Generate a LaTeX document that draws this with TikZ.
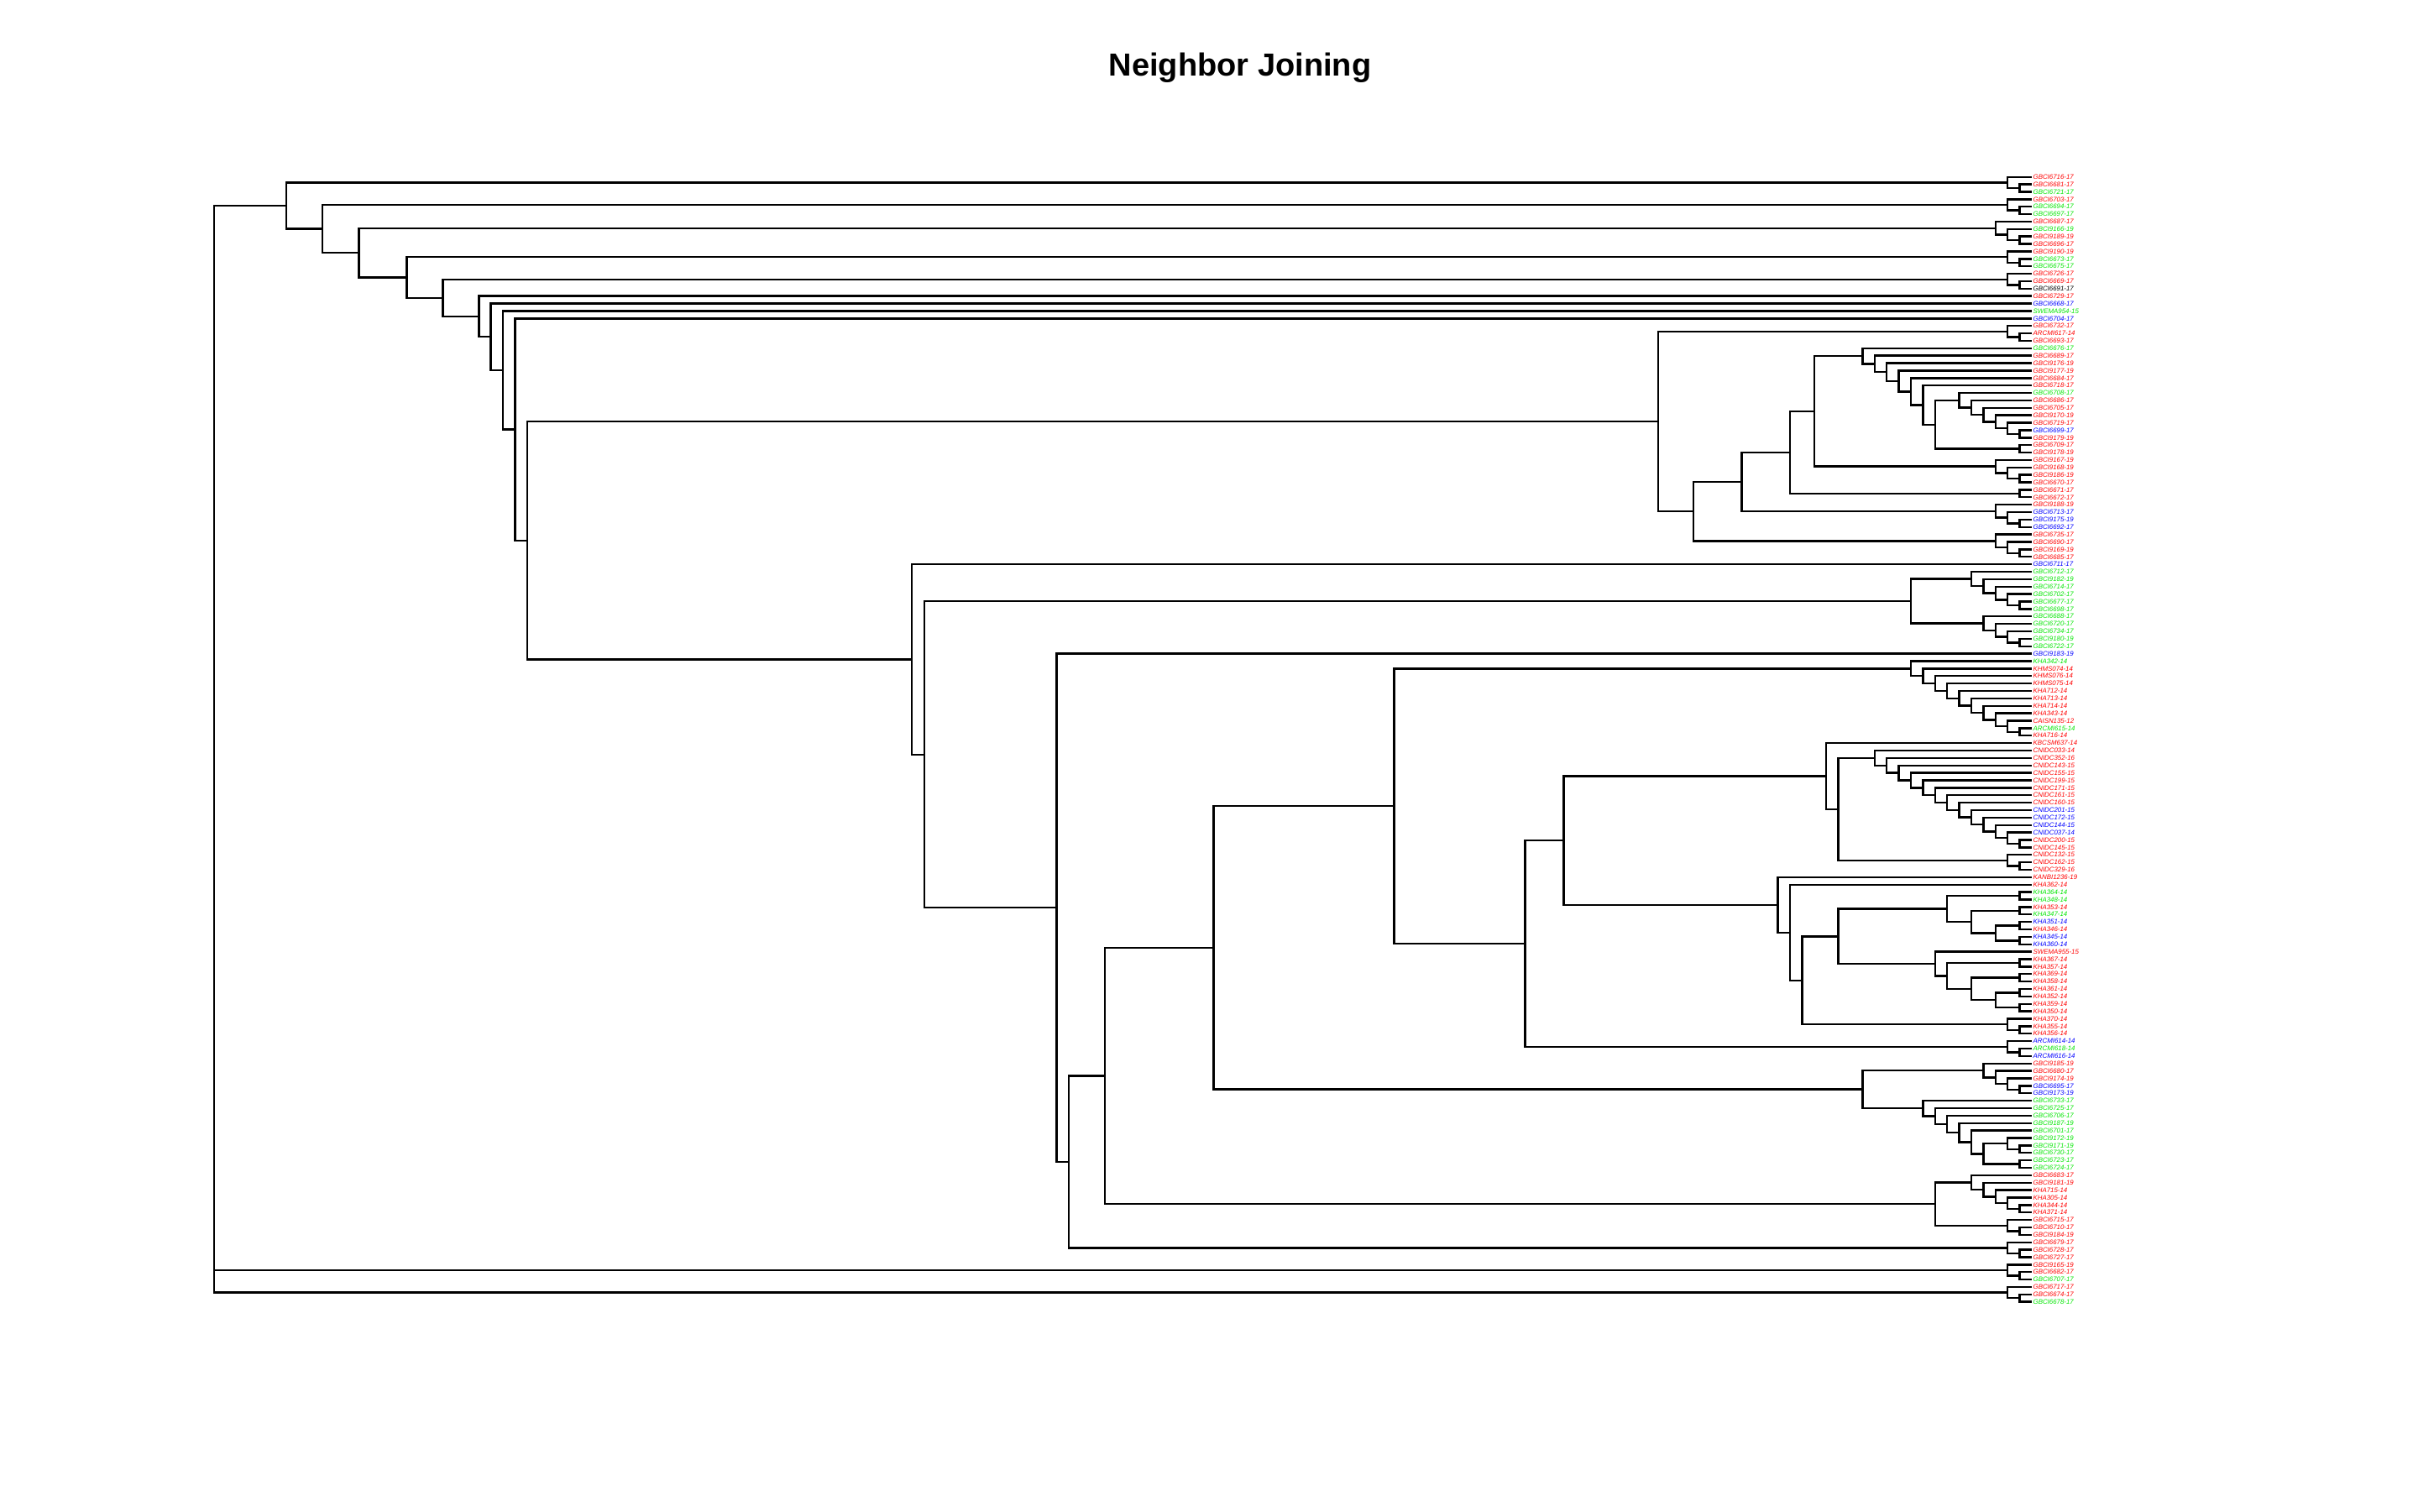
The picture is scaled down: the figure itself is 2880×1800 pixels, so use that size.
\documentclass[tikz,border=0pt]{standalone}
\usepackage{fontspec}
\setmainfont{Liberation Sans}
\usetikzlibrary{calc}
\definecolor{cr}{RGB}{255,0,0}
\definecolor{cg}{RGB}{0,230,0}
\definecolor{cb}{RGB}{0,0,255}
\definecolor{ck}{RGB}{0,0,0}
\newcommand\Kx[1]{(2420-14.4*#1)}
\newcommand\lf[3]{\coordinate (t#1) at (2420,{210.7+(#1-1)*8.874}); \node[lab,text=#2] (l#1) at (t#1) {#3};}
\newcommand\nd[4]{\path let \p1=(#3), \p2=(#4) in coordinate (#1) at ({(#2)*0.25pt},{0.5*(\y1)+0.5*(\y2)}); \draw[br] (#3) -| (#1) |- (#4);}
\begin{document}
\begin{tikzpicture}[x=0.25pt,y=-0.25pt,
  lab/.style={anchor=west,inner xsep=0.2pt,inner ysep=0pt,font=\fontsize{1.97pt}{2.2pt}\selectfont\itshape},
  br/.style={line width=0.6pt,black},
  ttl/.style={font=\fontsize{9.5pt}{11pt}\selectfont\bfseries}]
\useasboundingbox (0,0) rectangle (2880,1800);
\node[ttl] (title) at (1477,81) {Neighbor Joining};
\lf{1}{cr}{GBCI6716-17}
\lf{2}{cr}{GBCI6681-17}
\lf{3}{cg}{GBCI6721-17}
\lf{4}{cr}{GBCI6703-17}
\lf{5}{cg}{GBCI6694-17}
\lf{6}{cg}{GBCI6697-17}
\lf{7}{cr}{GBCI6687-17}
\lf{8}{cg}{GBCI9166-19}
\lf{9}{cr}{GBCI9189-19}
\lf{10}{cr}{GBCI6696-17}
\lf{11}{cr}{GBCI9190-19}
\lf{12}{cg}{GBCI6673-17}
\lf{13}{cg}{GBCI6675-17}
\lf{14}{cr}{GBCI6726-17}
\lf{15}{cr}{GBCI6669-17}
\lf{16}{ck}{GBCI6691-17}
\lf{17}{cr}{GBCI6729-17}
\lf{18}{cb}{GBCI6668-17}
\lf{19}{cg}{SWEMA954-15}
\lf{20}{cb}{GBCI6704-17}
\lf{21}{cr}{GBCI6732-17}
\lf{22}{cr}{ARCMI617-14}
\lf{23}{cr}{GBCI6693-17}
\lf{24}{cg}{GBCI6676-17}
\lf{25}{cr}{GBCI6689-17}
\lf{26}{cr}{GBCI9176-19}
\lf{27}{cr}{GBCI9177-19}
\lf{28}{cr}{GBCI6684-17}
\lf{29}{cr}{GBCI6718-17}
\lf{30}{cg}{GBCI6708-17}
\lf{31}{cr}{GBCI6686-17}
\lf{32}{cr}{GBCI6705-17}
\lf{33}{cr}{GBCI9170-19}
\lf{34}{cr}{GBCI6719-17}
\lf{35}{cb}{GBCI6699-17}
\lf{36}{cr}{GBCI9179-19}
\lf{37}{cr}{GBCI6709-17}
\lf{38}{cr}{GBCI9178-19}
\lf{39}{cr}{GBCI9167-19}
\lf{40}{cr}{GBCI9168-19}
\lf{41}{cr}{GBCI9186-19}
\lf{42}{cr}{GBCI6670-17}
\lf{43}{cr}{GBCI6671-17}
\lf{44}{cr}{GBCI6672-17}
\lf{45}{cr}{GBCI9188-19}
\lf{46}{cb}{GBCI6713-17}
\lf{47}{cb}{GBCI9175-19}
\lf{48}{cb}{GBCI6692-17}
\lf{49}{cr}{GBCI6735-17}
\lf{50}{cr}{GBCI6690-17}
\lf{51}{cr}{GBCI9169-19}
\lf{52}{cr}{GBCI6685-17}
\lf{53}{cb}{GBCI6711-17}
\lf{54}{cg}{GBCI6712-17}
\lf{55}{cg}{GBCI9182-19}
\lf{56}{cg}{GBCI6714-17}
\lf{57}{cg}{GBCI6702-17}
\lf{58}{cg}{GBCI6677-17}
\lf{59}{cg}{GBCI6698-17}
\lf{60}{cg}{GBCI6688-17}
\lf{61}{cg}{GBCI6720-17}
\lf{62}{cg}{GBCI6734-17}
\lf{63}{cg}{GBCI9180-19}
\lf{64}{cg}{GBCI6722-17}
\lf{65}{cb}{GBCI9183-19}
\lf{66}{cg}{KHA342-14}
\lf{67}{cr}{KHMS074-14}
\lf{68}{cr}{KHMS076-14}
\lf{69}{cr}{KHMS075-14}
\lf{70}{cr}{KHA712-14}
\lf{71}{cr}{KHA713-14}
\lf{72}{cr}{KHA714-14}
\lf{73}{cr}{KHA343-14}
\lf{74}{cr}{CAISN135-12}
\lf{75}{cg}{ARCMI615-14}
\lf{76}{cr}{KHA716-14}
\lf{77}{cr}{KBCSM637-14}
\lf{78}{cr}{CNIDC033-14}
\lf{79}{cr}{CNIDC352-16}
\lf{80}{cr}{CNIDC143-15}
\lf{81}{cr}{CNIDC155-15}
\lf{82}{cr}{CNIDC199-15}
\lf{83}{cr}{CNIDC171-15}
\lf{84}{cr}{CNIDC161-15}
\lf{85}{cr}{CNIDC160-15}
\lf{86}{cb}{CNIDC201-15}
\lf{87}{cb}{CNIDC172-15}
\lf{88}{cb}{CNIDC144-15}
\lf{89}{cb}{CNIDC037-14}
\lf{90}{cr}{CNIDC200-15}
\lf{91}{cr}{CNIDC145-15}
\lf{92}{cr}{CNIDC132-15}
\lf{93}{cr}{CNIDC162-15}
\lf{94}{cr}{CNIDC329-16}
\lf{95}{cr}{KANBI1236-19}
\lf{96}{cr}{KHA362-14}
\lf{97}{cg}{KHA364-14}
\lf{98}{cg}{KHA348-14}
\lf{99}{cr}{KHA353-14}
\lf{100}{cg}{KHA347-14}
\lf{101}{cb}{KHA351-14}
\lf{102}{cr}{KHA346-14}
\lf{103}{cb}{KHA345-14}
\lf{104}{cb}{KHA360-14}
\lf{105}{cr}{SWEMA955-15}
\lf{106}{cr}{KHA367-14}
\lf{107}{cr}{KHA357-14}
\lf{108}{cr}{KHA369-14}
\lf{109}{cr}{KHA358-14}
\lf{110}{cr}{KHA361-14}
\lf{111}{cr}{KHA352-14}
\lf{112}{cr}{KHA359-14}
\lf{113}{cr}{KHA350-14}
\lf{114}{cr}{KHA370-14}
\lf{115}{cr}{KHA355-14}
\lf{116}{cr}{KHA356-14}
\lf{117}{cb}{ARCMI614-14}
\lf{118}{cg}{ARCMI618-14}
\lf{119}{cb}{ARCMI616-14}
\lf{120}{cr}{GBCI9185-19}
\lf{121}{cr}{GBCI6680-17}
\lf{122}{cr}{GBCI9174-19}
\lf{123}{cb}{GBCI6695-17}
\lf{124}{cb}{GBCI9173-19}
\lf{125}{cg}{GBCI6733-17}
\lf{126}{cg}{GBCI6725-17}
\lf{127}{cg}{GBCI6706-17}
\lf{128}{cg}{GBCI9187-19}
\lf{129}{cg}{GBCI6701-17}
\lf{130}{cg}{GBCI9172-19}
\lf{131}{cg}{GBCI9171-19}
\lf{132}{cg}{GBCI6730-17}
\lf{133}{cg}{GBCI6723-17}
\lf{134}{cg}{GBCI6724-17}
\lf{135}{cr}{GBCI6683-17}
\lf{136}{cr}{GBCI9181-19}
\lf{137}{cr}{KHA715-14}
\lf{138}{cr}{KHA305-14}
\lf{139}{cr}{KHA344-14}
\lf{140}{cr}{KHA371-14}
\lf{141}{cr}{GBCI6715-17}
\lf{142}{cr}{GBCI6710-17}
\lf{143}{cr}{GBCI9184-19}
\lf{144}{cr}{GBCI6679-17}
\lf{145}{cr}{GBCI6728-17}
\lf{146}{cr}{GBCI6727-17}
\lf{147}{cr}{GBCI9165-19}
\lf{148}{cr}{GBCI6682-17}
\lf{149}{cg}{GBCI6707-17}
\lf{150}{cr}{GBCI6717-17}
\lf{151}{cr}{GBCI6674-17}
\lf{152}{cg}{GBCI6678-17}
% small clades at top
\nd{a1}{\Kx{1}}{t2}{t3} \nd{c1}{\Kx{2}}{t1}{a1}
\nd{a4}{\Kx{1}}{t5}{t6} \nd{c4}{\Kx{2}}{t4}{a4}
\nd{a9}{\Kx{1}}{t9}{t10} \nd{a8}{\Kx{2}}{t8}{a9} \nd{c7}{\Kx{3}}{t7}{a8}
\nd{a12}{\Kx{1}}{t12}{t13} \nd{c11}{\Kx{2}}{t11}{a12}
\nd{a15}{\Kx{1}}{t15}{t16} \nd{c14}{\Kx{2}}{t14}{a15}
% clade A
\nd{a22}{\Kx{1}}{t22}{t23} \nd{c21}{\Kx{2}}{t21}{a22}
\nd{a35}{\Kx{1}}{t35}{t36} \nd{a34}{\Kx{2}}{t34}{a35} \nd{a33}{\Kx{3}}{t33}{a34}
\nd{a32}{\Kx{4}}{t32}{a33} \nd{a31}{\Kx{5}}{t31}{a32} \nd{a30}{\Kx{6}}{t30}{a31}
\nd{a37}{\Kx{1}}{t37}{t38} \nd{b30}{\Kx{8}}{a30}{a37}
\nd{a29}{\Kx{9}}{t29}{b30} \nd{a28}{\Kx{10}}{t28}{a29} \nd{a27}{\Kx{11}}{t27}{a28}
\nd{a26}{\Kx{12}}{t26}{a27} \nd{a25}{\Kx{13}}{t25}{a26} \nd{a24}{\Kx{14}}{t24}{a25}
\nd{a41}{\Kx{1}}{t41}{t42} \nd{a40}{\Kx{2}}{t40}{a41} \nd{c39}{\Kx{3}}{t39}{a40}
\nd{A5}{\Kx{18}}{a24}{c39}
\nd{c43}{\Kx{1}}{t43}{t44}
\nd{A4}{\Kx{20}}{A5}{c43}
\nd{a47}{\Kx{1}}{t47}{t48} \nd{a46}{\Kx{2}}{t46}{a47} \nd{c45}{\Kx{3}}{t45}{a46}
\nd{A3}{\Kx{24}}{A4}{c45}
\nd{a51}{\Kx{1}}{t51}{t52} \nd{a50}{\Kx{2}}{t50}{a51} \nd{c49}{\Kx{3}}{t49}{a50}
\nd{A2}{\Kx{28}}{A3}{c49}
\nd{A}{1975}{c21}{A2}
% green clade
\nd{a58}{\Kx{1}}{t58}{t59} \nd{a57}{\Kx{2}}{t57}{a58} \nd{a56}{\Kx{3}}{t56}{a57}
\nd{a55}{\Kx{4}}{t55}{a56} \nd{c54}{\Kx{5}}{t54}{a55}
\nd{a63}{\Kx{1}}{t63}{t64} \nd{a62}{\Kx{2}}{t62}{a63} \nd{a61}{\Kx{3}}{t61}{a62}
\nd{c60}{\Kx{4}}{t60}{a61}
\nd{G}{\Kx{10}}{c54}{c60}
% KHA clade
\nd{a75}{\Kx{1}}{t75}{t76} \nd{a74}{\Kx{2}}{t74}{a75} \nd{a73}{\Kx{3}}{t73}{a74}
\nd{a72}{\Kx{4}}{t72}{a73} \nd{a71}{\Kx{5}}{t71}{a72} \nd{a70}{\Kx{6}}{t70}{a71}
\nd{a69}{\Kx{7}}{t69}{a70} \nd{a68}{\Kx{8}}{t68}{a69} \nd{a67}{\Kx{9}}{t67}{a68}
\nd{KH}{\Kx{10}}{t66}{a67}
% CNIDC clade
\nd{a90}{\Kx{1}}{t90}{t91} \nd{a89}{\Kx{2}}{t89}{a90} \nd{a88}{\Kx{3}}{t88}{a89}
\nd{a87}{\Kx{4}}{t87}{a88} \nd{a86}{\Kx{5}}{t86}{a87} \nd{a85}{\Kx{6}}{t85}{a86}
\nd{a84}{\Kx{7}}{t84}{a85} \nd{a83}{\Kx{8}}{t83}{a84} \nd{a82}{\Kx{9}}{t82}{a83}
\nd{a81}{\Kx{10}}{t81}{a82} \nd{a80}{\Kx{11}}{t80}{a81} \nd{a79}{\Kx{12}}{t79}{a80}
\nd{a78}{\Kx{13}}{t78}{a79}
\nd{a93}{\Kx{1}}{t93}{t94} \nd{c92}{\Kx{2}}{t92}{a93}
\nd{P2}{\Kx{16}}{a78}{c92} \nd{P}{\Kx{17}}{t77}{P2}
% KHA 97-116
\nd{a97}{\Kx{1}}{t97}{t98} \nd{a99}{\Kx{1}}{t99}{t100} \nd{a101}{\Kx{1}}{t101}{t102}
\nd{a103}{\Kx{1}}{t103}{t104} \nd{b101}{\Kx{3}}{a101}{a103} \nd{b99}{\Kx{5}}{a99}{b101}
\nd{b97}{\Kx{7}}{a97}{b99}
\nd{a106}{\Kx{1}}{t106}{t107} \nd{a108}{\Kx{1}}{t108}{t109} \nd{a110}{\Kx{1}}{t110}{t111}
\nd{a112}{\Kx{1}}{t112}{t113} \nd{b110}{\Kx{3}}{a110}{a112} \nd{b108}{\Kx{5}}{a108}{b110}
\nd{b106}{\Kx{7}}{a106}{b108} \nd{b105}{\Kx{8}}{t105}{b106}
\nd{R}{\Kx{16}}{b97}{b105}
\nd{a115}{\Kx{1}}{t115}{t116} \nd{c114}{\Kx{2}}{t114}{a115}
\nd{Q3}{\Kx{19}}{R}{c114} \nd{Q2}{\Kx{20}}{t96}{Q3} \nd{Q}{\Kx{21}}{t95}{Q2}
\nd{M1014}{1862.4}{P}{Q}
\nd{a118}{\Kx{1}}{t118}{t119} \nd{c117}{\Kx{2}}{t117}{a118}
\nd{M989}{1816.5}{M1014}{c117}
\nd{M904}{1660.4}{KH}{M989}
% clade 120-134
\nd{a123}{\Kx{1}}{t123}{t124} \nd{a122}{\Kx{2}}{t122}{a123} \nd{a121}{\Kx{3}}{t121}{a122}
\nd{c120}{\Kx{4}}{t120}{a121}
\nd{a131}{\Kx{1}}{t131}{t132} \nd{a130}{\Kx{2}}{t130}{a131} \nd{a133}{\Kx{1}}{t133}{t134}
\nd{b130}{\Kx{4}}{a130}{a133} \nd{a129}{\Kx{5}}{t129}{b130} \nd{a128}{\Kx{6}}{t128}{a129}
\nd{a127}{\Kx{7}}{t127}{a128} \nd{a126}{\Kx{8}}{t126}{a127} \nd{c125}{\Kx{9}}{t125}{a126}
\nd{E}{\Kx{14}}{c120}{c125}
\nd{M787}{1445.5}{M904}{E}
% clade 135-143
\nd{a139}{\Kx{1}}{t139}{t140} \nd{a138}{\Kx{2}}{t138}{a139} \nd{a137}{\Kx{3}}{t137}{a138}
\nd{a136}{\Kx{4}}{t136}{a137} \nd{c135}{\Kx{5}}{t135}{a136}
\nd{a142}{\Kx{1}}{t142}{t143} \nd{c141}{\Kx{2}}{t141}{a142}
\nd{D}{\Kx{8}}{c135}{c141}
\nd{B4}{1315.7}{M787}{D}
\nd{a145}{\Kx{1}}{t145}{t146} \nd{c144}{\Kx{2}}{t144}{a145}
\nd{B3}{1272.7}{B4}{c144}
\nd{B2}{1258.3}{t65}{B3}
\nd{B1}{1100.7}{G}{B2}
\nd{B0}{1086}{t53}{B1}
% backbone
\nd{N10}{628}{A}{B0}
\nd{N9}{613.3}{t20}{N10}
\nd{N8}{599}{t19}{N9}
\nd{N7}{584.3}{t18}{N8}
\nd{N6}{570.3}{t17}{N7}
\nd{N5}{527.3}{c14}{N6}
\nd{N4}{484.3}{c11}{N5}
\nd{N3}{427.3}{c7}{N4}
\nd{N2}{384}{c4}{N3}
\nd{N1}{341}{c1}{N2}
% bottom clades and root
\nd{a148}{\Kx{1}}{t148}{t149} \nd{c147}{\Kx{2}}{t147}{a148}
\nd{a151}{\Kx{1}}{t151}{t152} \nd{c150}{\Kx{2}}{t150}{a151}
\nd{root}{255}{N1}{c150}
\draw[br] (c147) -- (c147 -| root);
\end{tikzpicture}
\end{document}
